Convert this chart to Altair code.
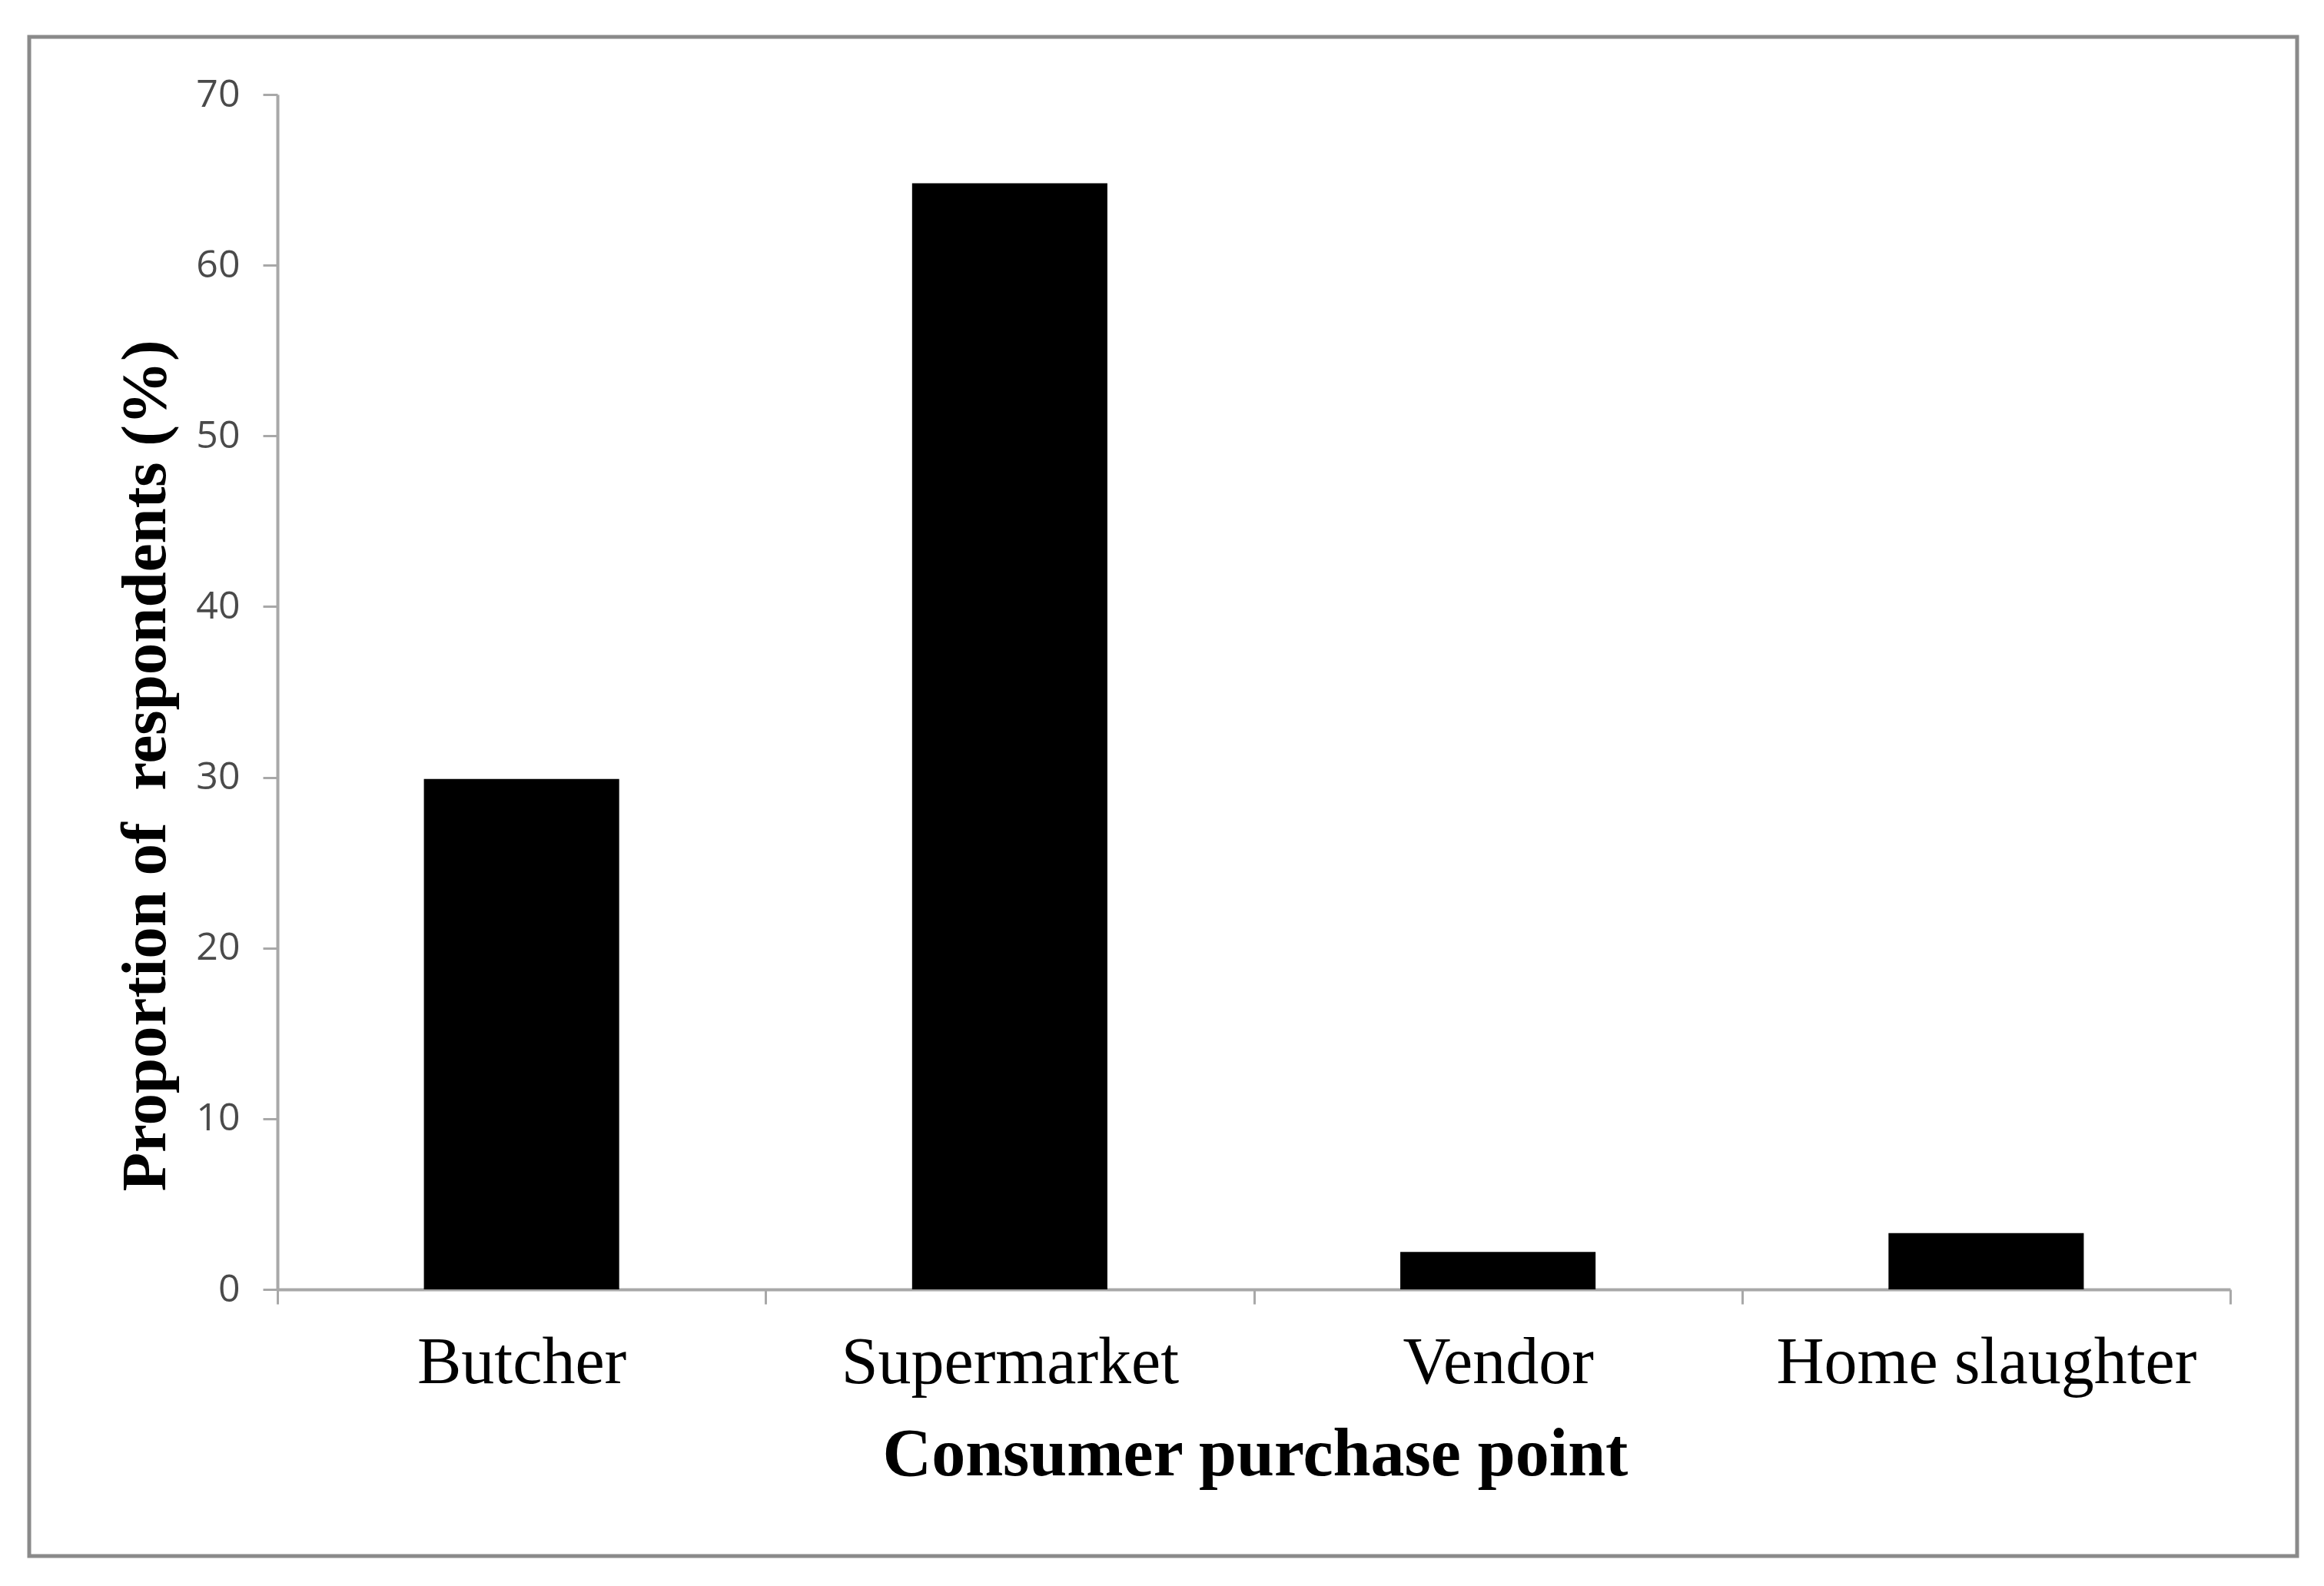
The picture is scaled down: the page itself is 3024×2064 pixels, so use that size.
import altair as alt
import pandas as pd

categories = ["Butcher", "Supermarket", "Vendor", "Home slaughter"]
values = [29.9, 64.8, 2.2, 3.3]
y_ticks = [0, 10, 20, 30, 40, 50, 60, 70]

df = pd.DataFrame({"point": categories, "pct": values})

W, H = 2541, 1555
AXIS_GRAY = "#a8a8a8"

bars = alt.Chart(df).mark_bar(color="black", width=alt.RelativeBandSize(0.4)).encode(
    x=alt.X(
        "point:N",
        sort=categories,
        scale=alt.Scale(paddingInner=0, paddingOuter=0),
        axis=alt.Axis(
            title="Consumer purchase point",
            labelAngle=0,
            tickBand="extent",
            domainColor=AXIS_GRAY,
            domainWidth=4,
            tickColor=AXIS_GRAY,
            tickWidth=3,
            tickSize=19,
            labelFont="Liberation Serif",
            labelFontSize=86,
            labelColor="black",
            labelPadding=102,
            labelBaseline="alphabetic",
            labelLimit=2000,
            labelOverlap=False,
            titleFont="Liberation Serif",
            titleFontWeight="bold",
            titleFontSize=88,
            titleColor="black",
            titleX=1272,
            titleY=241,
            titleAlign="center",
            titleBaseline="alphabetic",
            titleLimit=3000,
        ),
    ),
    y=alt.Y(
        "pct:Q",
        scale=alt.Scale(domain=[0, 70], nice=False, zero=True),
        axis=alt.Axis(
            title="Proportion of \u00a0respondents (%)",
            values=y_ticks,
            domainColor=AXIS_GRAY,
            domainWidth=4,
            tickColor=AXIS_GRAY,
            tickWidth=3,
            tickSize=19,
            labelFont="Open Sans",
            labelFontSize=50,
            labelColor="#4a4a4a",
            labelPadding=30,
            titleFont="Liberation Serif",
            titleFontWeight="bold",
            titleFontSize=83,
            titleColor="black",
            titleAngle=270,
            titleX=-172,
            titleY=873,
            titleAlign="center",
            titleBaseline="middle",
            titleLimit=3000,
        ),
    ),
)

frame = alt.Chart(pd.DataFrame({"k": [0]})).mark_rect(
    filled=False, stroke="#8a8a8a", strokeWidth=5
).encode(
    x=alt.value(-323), x2=alt.value(2628), y=alt.value(-75), y2=alt.value(1902)
)

chart = alt.layer(frame, bars).properties(
    width=W,
    height=H,
    autosize=alt.AutoSizeParams(type="none"),
    padding={"left": 353, "top": 115, "right": 114, "bottom": 378},
).configure_view(stroke=None).configure_axis(grid=False)

chart.save("out.html", embed_options={"renderer": "svg", "actions": False})
